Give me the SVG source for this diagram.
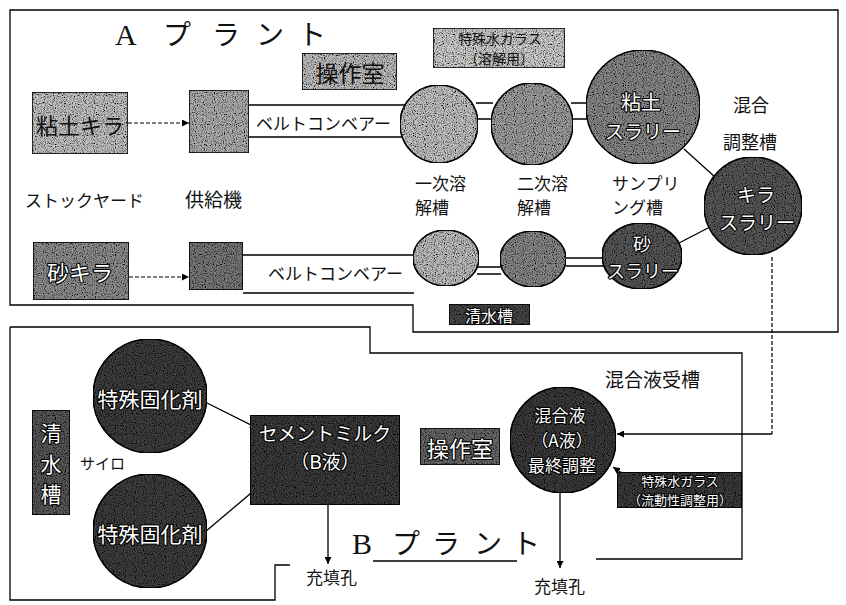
<svg xmlns="http://www.w3.org/2000/svg" width="846" height="605" viewBox="0 0 846 605">
<style>
text{font-family:"Noto Sans CJK JP","Noto Sans",sans-serif;fill:#111}
.lab{font-size:17px}
.t{text-anchor:middle;dominant-baseline:central}
.w{fill:#fff;stroke:#000;stroke-width:2.2px;paint-order:stroke;stroke-linejoin:round}
.ttl{font-size:28px}
.ser{font-family:"Liberation Serif",serif}
.sh{stroke:#000;stroke-width:1.5;filter:url(#grain)}
.ln{stroke:#000;stroke-width:1.3;fill:none}
.ol{stroke:#000;stroke-width:1.3;fill:none}
.da{stroke:#000;stroke-width:1.2;fill:none;stroke-dasharray:4 2}
</style>
<defs>
<filter id="grain" x="0" y="0" width="100%" height="100%">
<feTurbulence type="fractalNoise" baseFrequency="0.9" numOctaves="1" seed="4" result="t"/>
<feColorMatrix in="t" type="matrix" values="0 0 0 0 0  0 0 0 0 0  0 0 0 0 0  3.2 0 0 0 -1.35" result="s"/>
<feComposite in="s" in2="SourceAlpha" operator="in" result="c"/>
<feMerge><feMergeNode in="SourceGraphic"/><feMergeNode in="c"/></feMerge>
</filter>
<marker id="ah" viewBox="0 0 10 10" refX="10" refY="5" markerWidth="7" markerHeight="7" orient="auto-start-reverse" markerUnits="userSpaceOnUse">
<path d="M0,0 L10,5 L0,10 Z" fill="#000"/>
</marker>
</defs>
<rect width="846" height="605" fill="#fff"/>

<!-- plant outlines -->
<path class="ol" d="M10,10 H838 V332 H413 V305 H10 Z"/>
<path class="ol" d="M10,327 H370 V353 H742 V559 H596 M517,561 H373 M290,565 H275 V600 H10 V327"/>
<text class="ttl"><tspan class="ser" x="115" y="45" style="font-size:30px">A</tspan><tspan x="163" y="45">プ</tspan><tspan x="212" y="45">ラ</tspan><tspan x="256" y="45">ン</tspan><tspan x="298" y="45">ト</tspan></text>
<text class="ttl"><tspan class="ser" x="352" y="554" style="font-size:30px">B</tspan><tspan x="392" y="554">プ</tspan><tspan x="432" y="554">ラ</tspan><tspan x="474" y="554">ン</tspan><tspan x="512" y="554">ト</tspan></text>

<!-- labels -->
<g class="lab">
<text x="25" y="207">ストックヤード</text>
<text x="185" y="207" style="font-size:19px">供給機</text>
<text x="415" y="190" style="font-size:17px">一次溶</text><text x="415" y="214" style="font-size:17px">解槽</text>
<text x="517" y="190" style="font-size:17px">二次溶</text><text x="517" y="214" style="font-size:17px">解槽</text>
<text x="612" y="190" style="font-size:17px">サンプリ</text><text x="612" y="214" style="font-size:17px">ング槽</text>
<text x="733" y="112" style="font-size:18px">混合</text>
<text x="723" y="149" style="font-size:18px">調整槽</text>
<text x="80" y="469" style="font-size:15px">サイロ</text>
<text x="605" y="387" style="font-size:19px">混合液受槽</text>
<text x="306" y="584">充填孔</text>
<text x="534" y="593">充填孔</text>
</g>

<!-- connectors -->
<g id="connectors">
<line class="da" x1="128" y1="123" x2="189" y2="123" marker-end="url(#ah)"/>
<line class="da" x1="129" y1="277" x2="189" y2="277" marker-end="url(#ah)"/>
<path class="ln" d="M249,105 H405 M249,137 H405"/>
<text class="lab" x="256" y="130">ベルトコンベアー</text>
<path class="ln" d="M243,255 H416 M243,293 H414"/>
<text class="lab" x="268" y="280">ベルトコンベアー</text>
<path class="ln" d="M476,103 H493 M477,119 H492 M571,103 H592 M572,119 H589"/>
<path class="ln" d="M477,267 H501 M477,274 H501 M565,258 H604 M566,266 H603"/>
<line class="ln" x1="684" y1="149" x2="715" y2="177"/>
<line class="ln" x1="679" y1="243" x2="708" y2="228"/>
<line class="da" x1="772" y1="257" x2="772" y2="434"/>
<line class="ln" x1="772" y1="434" x2="617" y2="434" marker-end="url(#ah)"/>
<line class="ln" x1="626" y1="476" x2="613" y2="467" marker-end="url(#ah)"/>
<line class="ln" x1="205" y1="402" x2="257" y2="428" marker-end="url(#ah)"/>
<line class="ln" x1="205" y1="532" x2="257" y2="488" marker-end="url(#ah)"/>
<line class="ln" x1="328" y1="505" x2="328" y2="564" marker-end="url(#ah)"/>
<line class="ln" x1="560" y1="493" x2="560" y2="568" marker-end="url(#ah)"/>
</g>

<!-- A plant nodes -->
<g id="clay-kira"><rect class="sh" x="32" y="92" width="96" height="62" fill="#c4c4c4"/><text class="t" x="80" y="124" style="font-size:22px">粘土キラ</text></g>
<g id="feeder1"><rect class="sh" x="189" y="90" width="60" height="63" fill="#b0b0b0"/></g>
<g id="control-a"><rect class="sh" x="302" y="53" width="95" height="37" fill="#c0c0c0"/><text class="t" x="350" y="72" style="font-size:23px">操作室</text></g>
<g id="waterglass-a"><rect class="sh" x="433" y="28" width="132" height="40" fill="#d0d0d0"/><text class="t" x="500" y="37.5" style="font-size:14px">特殊水ガラス</text><text class="t" x="499" y="58" style="font-size:14px">（溶解用）</text></g>
<g id="tank1"><circle class="sh" cx="439" cy="124" r="39" fill="#c4c4c4"/></g>
<g id="tank2"><circle class="sh" cx="532" cy="124" r="41" fill="#a0a0a0"/></g>
<g id="clay-slurry"><circle class="sh" cx="643" cy="107" r="57" fill="#8a8a8a"/><text class="t w" x="641" y="101" style="font-size:20px">粘土</text><text class="t w" x="643" y="130" style="font-size:19px">スラリー</text></g>
<g id="kira-slurry"><circle class="sh" cx="753" cy="206" r="49" fill="#5a5a5a"/><text class="t w" x="756" y="193" style="font-size:19px">キラ</text><text class="t w" x="757" y="221" style="font-size:19px">スラリー</text></g>
<g id="sand-kira"><rect class="sh" x="33" y="242" width="96" height="58" fill="#909090"/><text class="t w" x="80" y="271" style="font-size:22px">砂キラ</text></g>
<g id="feeder2"><rect class="sh" x="189" y="242" width="54" height="48" fill="#7a7a7a"/></g>
<g id="tank3"><ellipse class="sh" cx="446" cy="258" rx="33" ry="28" fill="#c0c0c0"/></g>
<g id="tank4"><ellipse class="sh" cx="533" cy="259" rx="33" ry="28" fill="#8a8a8a"/></g>
<g id="sand-slurry"><ellipse class="sh" cx="642" cy="256" rx="40" ry="33" fill="#5a5a5a"/><text class="t w" x="642" y="243" style="font-size:18px">砂</text><text class="t w" x="643" y="270" style="font-size:18px">スラリー</text></g>
<g id="water-a"><rect class="sh" x="449" y="304" width="81" height="21" fill="#4a4a4a"/><text class="t w" x="489" y="315" style="font-size:16px">清水槽</text></g>

<!-- B plant nodes -->
<g id="hardener1"><circle class="sh" cx="150" cy="396" r="57" fill="#404040"/><text class="t w" x="150" y="398" style="font-size:21px">特殊固化剤</text></g>
<g id="hardener2"><circle class="sh" cx="150" cy="531" r="57" fill="#404040"/><text class="t w" x="150" y="533" style="font-size:21px">特殊固化剤</text></g>
<g id="water-b"><rect class="sh" x="32" y="410" width="38" height="105" fill="#5a5a5a"/><text class="t w" x="51" y="432" style="font-size:21px">清</text><text class="t w" x="51" y="462.5" style="font-size:21px">水</text><text class="t w" x="51" y="493" style="font-size:21px">槽</text></g>
<g id="cement"><rect class="sh" x="250" y="415" width="150" height="90" fill="#3c3c3c"/><text class="t w" x="325" y="432" style="font-size:19px">セメントミルク</text><text class="t w" x="325" y="460" style="font-size:19px">（B液）</text></g>
<g id="control-b"><rect class="sh" x="420" y="428" width="80" height="37" fill="#6a6a6a"/><text class="t w" x="460" y="447" style="font-size:22px">操作室</text></g>
<g id="mix"><circle class="sh" cx="563" cy="440" r="53" fill="#3c3c3c"/><text class="t w" x="560" y="414" style="font-size:17px">混合液</text><text class="t w" x="562" y="439" style="font-size:17px">（A液）</text><text class="t w" x="562" y="464" style="font-size:17px">最終調整</text></g>
<g id="waterglass-b"><rect class="sh" x="617" y="472" width="125" height="36" fill="#3c3c3c"/><text class="t w" x="680" y="480.5" style="font-size:13px">特殊水ガラス</text><text class="t w" x="680" y="499.5" style="font-size:13px">（流動性調整用）</text></g>
</svg>
